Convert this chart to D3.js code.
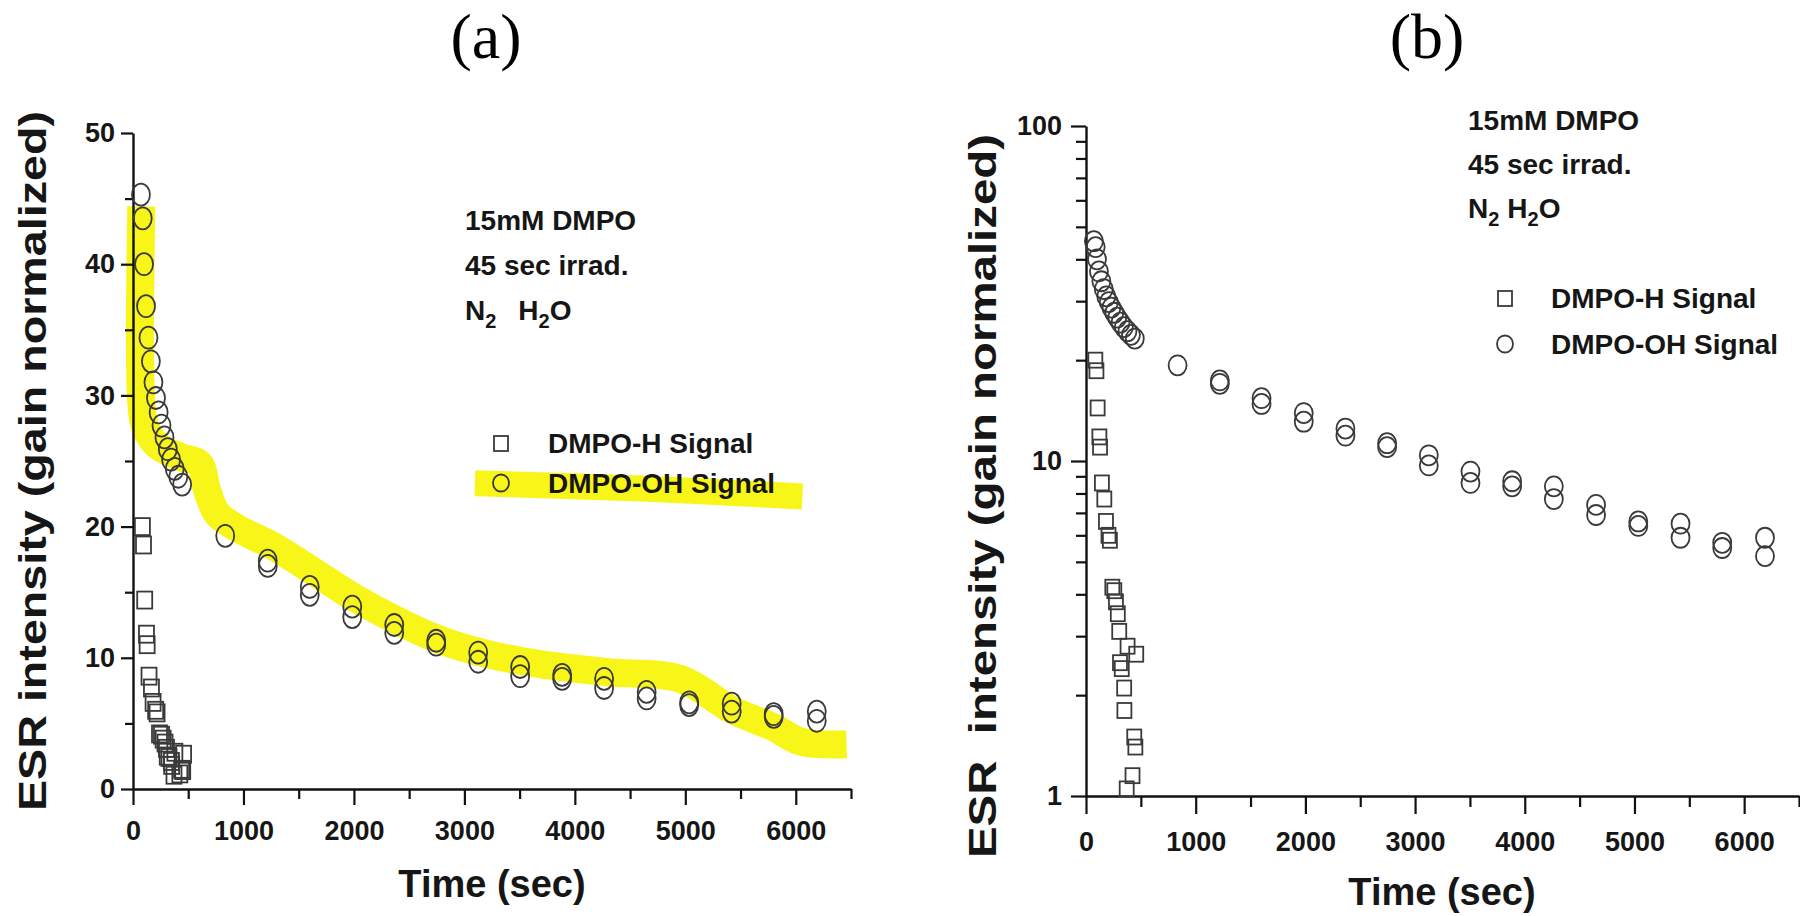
<!DOCTYPE html>
<html lang="en">
<head>
<meta charset="UTF-8">
<title>DMPO spin adduct decay</title>
<script src="https://d3js.org/d3.v7.min.js"></script>
<style>
    body { margin: 0; background: #ffffff; }
    #canvas text { font-family: "Liberation Sans", Arial, sans-serif; font-weight: bold; fill: #161616; }
    #canvas text.tag { font-family: "Liberation Serif", "Times New Roman", serif; font-weight: normal; font-size: 64px; fill: #000; }
    .note { font-size: 28px; }
    .title { font-size: 38px; }
    .mark { fill: none; stroke: #3a3a3a; stroke-width: 1.8px; }
</style>
</head>
<body>
<svg id="canvas" width="1800" height="916"></svg>
<script>

    // ---- values (time in s, intensity in gain normalized units) ----
    let hTime = [85, 95, 106, 122, 128, 145, 167, 182, 205, 218, 240, 258, 273, 290, 303, 310, 326, 348, 350, 371, 379, 424, 440, 450, 458];
    let hVal  = [20.0, 18.6, 14.4, 11.8, 11.0, 8.6, 7.7, 6.6, 6.0, 5.8, 4.2, 4.1, 3.8, 3.5, 3.1, 2.5, 2.4, 2.1, 1.8, 1.05, 2.8, 1.15, 1.5, 1.4, 2.65];

    let ohTime = [72, 88, 100, 118, 140, 162, 185, 208, 232, 258, 285, 315, 345, 378, 410, 445,
                  835, 1220, 1220, 1600, 1600, 1985, 1985, 2365, 2365, 2745, 2745, 3125, 3125, 3505, 3505,
                  3885, 3885, 4265, 4265, 4650, 4650, 5035, 5035, 5420, 5420, 5800, 5800, 6190, 6190];
    let ohVal  = [45.3, 43.5, 40.0, 36.8, 34.4, 32.6, 31.0, 29.8, 28.7, 27.7, 26.8, 25.9, 25.1, 24.4, 23.8, 23.2,
                  19.3, 17.4, 17.0, 15.4, 14.8, 13.9, 13.1, 12.5, 11.9, 11.3, 11.0, 10.4, 9.7, 9.3, 8.6,
                  8.7, 8.4, 8.4, 7.7, 7.4, 6.9, 6.6, 6.4, 6.5, 5.9, 5.7, 5.5, 5.9, 5.2];

    // yellow highlighter strokes drawn over panel (a), in data units
    let markTime = [75, 75, 110, 220, 430, 600, 670, 760, 940, 1270, 1630, 2000, 2400, 2800, 3200, 3700, 4300, 4950, 5430, 5800, 6050, 6460];
    let markVal  = [44.4, 29.5, 27.6, 26.2, 25.3, 24.8, 22.8, 21.0, 19.9, 18.5, 16.6, 14.6, 12.8, 11.3, 10.3, 9.5, 8.9, 8.4, 6.0, 4.7, 3.6, 3.4];
    let legendMarkTime = [3095, 4600, 6060];
    let legendMarkVal  = [23.3, 22.9, 22.3];

    // ticks
    let xTicks = d3.range(0, 6501, 500);
    let xLabels = [0, 1000, 2000, 3000, 4000, 5000, 6000];
    let yTicksA = d3.range(0, 51, 5);
    let yLabelsA = [0, 10, 20, 30, 40, 50];
    let yTicksB = [1, 2, 3, 4, 5, 6, 7, 8, 9, 10, 20, 30, 40, 50, 60, 70, 80, 90, 100];
    let yLabelsB = [1, 10, 100];

    // text
    let panelTags = ["(a)", "(b)"];
    let legendNames = ["DMPO-H Signal", "DMPO-OH Signal"];
    let xTitle = "Time (sec)";
    let yTitleA = "ESR intensity (gain normalized)";
    let yTitleB = "ESR  intensity (gain normalized)";

    let hPoints = hTime.map(function (t, i) { return {t: t, v: hVal[i]}; });
    let ohPoints = ohTime.map(function (t, i) { return {t: t, v: ohVal[i]}; });
    let markPoints = markTime.map(function (t, i) { return {t: t, v: markVal[i]}; });
    let legendMarkPoints = legendMarkTime.map(function (t, i) { return {t: t, v: legendMarkVal[i]}; });

    let svg = d3.select('#canvas');
    svg.append('rect').attr('width', 1800).attr('height', 916).attr('fill', '#ffffff');

    // styles one axis: long ticks for labelled values, short ticks for the rest
    function styleAxis(g, labelled, majorLen, minorLen, horizontal) {
        g.attr('font-size', 27).attr('font-family', '"Liberation Sans", Arial, sans-serif');
        g.select('.domain').attr('stroke', '#111').attr('stroke-width', 2.4);
        g.selectAll('.tick line')
            .attr('stroke', '#111').attr('stroke-width', 2.2)
            .attr(horizontal ? 'y2' : 'x2', function (d) {
                let len = labelled.includes(d) ? majorLen : minorLen;
                return horizontal ? len : -len;
            });
    }

    // notes "15mM DMPO / 45 sec irrad. / N2 H2O"
    function addNotes(g, x, y0, gap, wideGap) {
        g.append('text').attr('class', 'note').attr('x', x).attr('y', y0).text('15mM DMPO');
        g.append('text').attr('class', 'note').attr('x', x).attr('y', y0 + gap).text('45 sec irrad.');
        let t = g.append('text').attr('class', 'note').attr('x', x).attr('y', y0 + 2 * gap);
        t.append('tspan').text('N');
        t.append('tspan').attr('dy', 8).attr('font-size', 20).text('2');
        t.append('tspan').attr('dy', -8).attr('dx', wideGap).text('H');
        t.append('tspan').attr('dy', 8).attr('font-size', 20).text('2');
        t.append('tspan').attr('dy', -8).text('O');
    }

    function drawMarks(g, x, y, sq, circ) {
        g.selectAll('rect.h')
            .data(hPoints)
            .enter()
            .append('rect')
            .attr('class', 'mark h')
            .attr('x', function (d) { return x(d.t) - sq[0] / 2; })
            .attr('y', function (d) { return y(d.v) - sq[1] / 2; })
            .attr('width', sq[0]).attr('height', sq[1]);
        g.selectAll('ellipse.oh')
            .data(ohPoints)
            .enter()
            .append('ellipse')
            .attr('class', 'mark oh')
            .attr('cx', function (d) { return x(d.t); })
            .attr('cy', function (d) { return y(d.v); })
            .attr('rx', circ[0]).attr('ry', circ[1]);
    }

    function drawLegend(g, mx, tx, y1, y2) {
        g.append('rect').attr('class', 'mark').attr('x', mx - 7).attr('y', y1 - 7).attr('width', 14).attr('height', 15);
        g.append('ellipse').attr('class', 'mark').attr('cx', mx).attr('cy', y2).attr('rx', 8).attr('ry', 8.5);
        g.append('text').attr('class', 'note').attr('x', tx).attr('y', y1 + 10).text(legendNames[0]);
        g.append('text').attr('class', 'note').attr('x', tx).attr('y', y2 + 10).text(legendNames[1]);
    }

    // ================= panel (a): linear =================
    let xA = d3.scaleLinear().domain([0, 6500]).range([133, 851]);
    let yA = d3.scaleLinear().domain([0, 50]).range([789, 133]);
    let gA = svg.append('g');

    // highlighter goes under the markers
    let markLine = d3.line()
        .x(function (d) { return xA(d.t); })
        .y(function (d) { return yA(d.v); })
        .curve(d3.curveCatmullRom.alpha(0.5));
    gA.append('path').datum(markPoints)
        .attr('d', markLine)
        .attr('fill', 'none').attr('stroke', '#f7f400').attr('stroke-opacity', 0.9)
        .attr('stroke-width', 28).attr('stroke-linecap', 'butt').attr('stroke-linejoin', 'round');
    gA.append('path').datum(legendMarkPoints)
        .attr('d', markLine)
        .attr('fill', 'none').attr('stroke', '#f7f400').attr('stroke-opacity', 0.9)
        .attr('stroke-width', 26).attr('stroke-linecap', 'butt');

    let axA_x = gA.append('g').attr('transform', 'translate(0,789)')
        .call(d3.axisBottom(xA).tickValues(xTicks).tickSize(16).tickSizeOuter(0).tickPadding(16)
            .tickFormat(function (d) { return xLabels.includes(d) ? d : ''; }));
    styleAxis(axA_x, xLabels, 16, 10, true);
    let axA_y = gA.append('g').attr('transform', 'translate(133,0)')
        .call(d3.axisLeft(yA).tickValues(yTicksA).tickSize(12).tickSizeOuter(0).tickPadding(6)
            .tickFormat(function (d) { return yLabelsA.includes(d) ? d : ''; }));
    styleAxis(axA_y, yLabelsA, 12, 8, false);

    drawMarks(gA, xA, yA, [15, 17], [9, 11]);

    addNotes(gA, 465, 230, 45, 22);
    drawLegend(gA, 501, 548, 443, 483);

    gA.append('text').attr('class', 'title').attr('text-anchor', 'middle')
        .attr('x', 492).attr('y', 897).text(xTitle);
    gA.append('text').attr('class', 'title').attr('text-anchor', 'middle')
        .attr('transform', 'translate(46,461) rotate(-90)')
        .attr('font-size', 40).attr('textLength', 700).attr('lengthAdjust', 'spacingAndGlyphs')
        .text(yTitleA);
    gA.append('text').attr('class', 'tag').attr('text-anchor', 'middle')
        .attr('x', 486).attr('y', 58).text(panelTags[0]);

    // ================= panel (b): log =================
    let xB = d3.scaleLinear().domain([0, 6500]).range([1086, 1799]);
    let yB = d3.scaleLog().domain([1, 100]).range([796, 126]);
    let gB = svg.append('g');

    let axB_x = gB.append('g').attr('transform', 'translate(0,796)')
        .call(d3.axisBottom(xB).tickValues(xTicks).tickSize(18).tickSizeOuter(0).tickPadding(18)
            .tickFormat(function (d) { return xLabels.includes(d) ? d : ''; }));
    styleAxis(axB_x, xLabels, 18, 11, true);
    let axB_y = gB.append('g').attr('transform', 'translate(1086,0)')
        .call(d3.axisLeft(yB).tickValues(yTicksB).tickSize(15).tickSizeOuter(0).tickPadding(9)
            .tickFormat(function (d) { return yLabelsB.includes(d) ? d : ''; }));
    styleAxis(axB_y, yLabelsB, 15, 10, false);

    drawMarks(gB, xB, yB, [14, 15], [9, 10]);

    addNotes(gB, 1468, 130, 44, 8);
    drawLegend(gB, 1505, 1551, 298, 344);

    gB.append('text').attr('class', 'title').attr('text-anchor', 'middle')
        .attr('x', 1442).attr('y', 905).text(xTitle);
    gB.append('text').attr('class', 'title').attr('text-anchor', 'middle')
        .attr('transform', 'translate(996,496) rotate(-90)')
        .attr('font-size', 40).attr('textLength', 724).attr('lengthAdjust', 'spacingAndGlyphs')
        .style('white-space', 'pre')
        .text(yTitleB);
    gB.append('text').attr('class', 'tag').attr('text-anchor', 'middle')
        .attr('x', 1427).attr('y', 58).text(panelTags[1]);

</script>
</body>
</html>
